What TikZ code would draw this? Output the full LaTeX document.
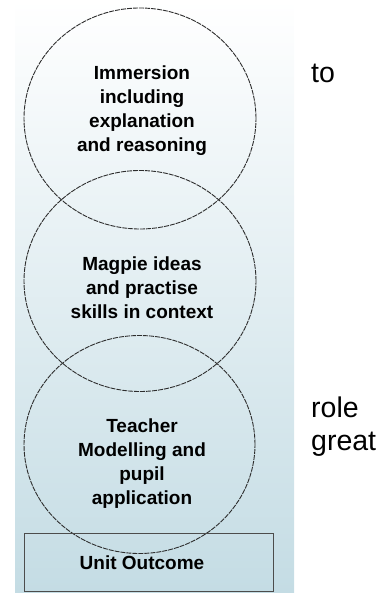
\documentclass[tikz,border=0pt]{standalone}
\usepackage{fontspec}
\setmainfont{Liberation Sans}
\usetikzlibrary{shapes.geometric}
\definecolor{panelbot}{RGB}{196,220,228}
\definecolor{lineg}{RGB}{45,45,45}
\tikzset{
  ell/.style={ellipse, draw=lineg, line width=0.9pt, dash pattern=on 5pt off 1pt, inner sep=0pt, outer sep=0pt, minimum width=232pt, minimum height=221pt},
  intext/.style={align=center, font=\bfseries\fontsize{19}{24}\selectfont, text=black, inner sep=0pt},
  sidetext/.style={align=left, font=\fontsize{28.5}{33}\selectfont, inner sep=0pt, anchor=base west},
  outbox/.style={draw=black!70, line width=1pt}
}
\begin{document}
\begin{tikzpicture}[x=1pt,y=-1pt]
\useasboundingbox (0,0) rectangle (388,593);
\shade[top color=white, bottom color=panelbot] (15,0) rectangle (294,593);
\node[ell] (c1) at (140,118.5) {};
\node[ell] (c2) at (140,281) {};
\node[ell, minimum width=231pt, minimum height=218pt] (c3) at (139.5,444.5) {};
\draw[outbox] (24,533) rectangle (273,591);
\node[intext] (t1) at (142,110.2) {Immersion\\including\\explanation\\and reasoning};
\node[intext] (t2) at (142,288.2) {Magpie ideas\\and practise\\skills in context};
\node[intext] (t3) at (142,463.2) {Teacher\\Modelling and\\pupil\\application};
\node[intext] (t4) at (142,563.2) {Unit Outcome};
\node[sidetext] (s1) at (311,83) {to};
\node[sidetext] (s2) at (311,450) {role\\great};
\end{tikzpicture}
\end{document}
